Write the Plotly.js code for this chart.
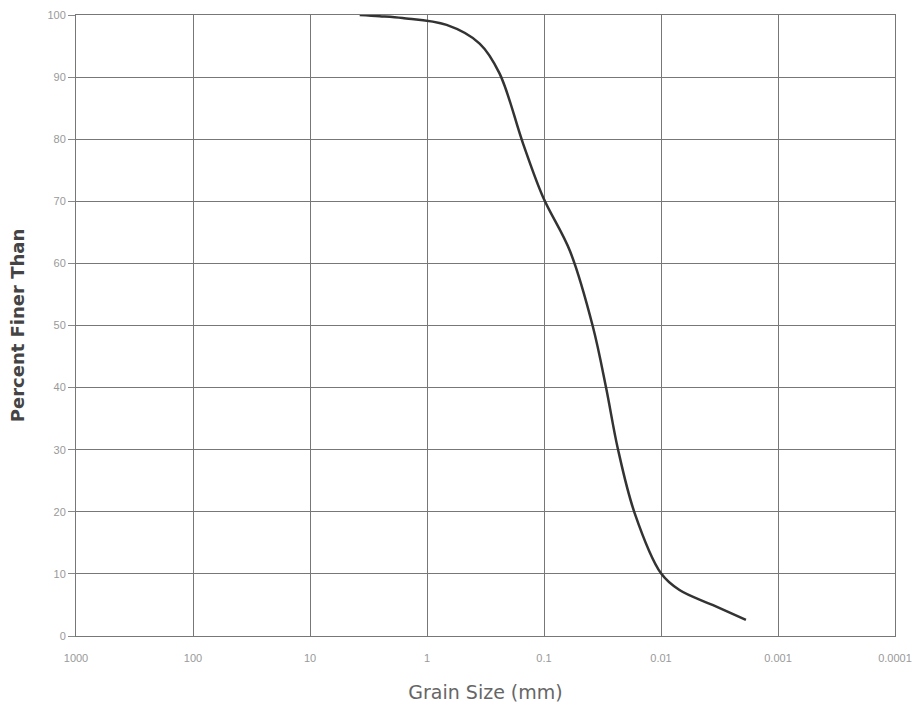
<!DOCTYPE html>
<html>
<head>
<meta charset="utf-8">
<script src="https://cdn.plot.ly/plotly-3.0.1.min.js"></script>
<style>html,body{margin:0;padding:0;background:#fff;}#chart{width:915px;height:706px;}</style>
</head>
<body>
<div id="chart"></div>
<script>
// Grain size distribution
const grainSize = [3.76, 2.54, 1.62, 0.68, 0.355, 0.24, 0.151, 0.102, 0.060, 0.0382, 0.0294, 0.0234, 0.0168, 0.0100, 0.00695, 0.00363, 0.00188];
const percentFiner = [100, 99.8, 99.5, 98.4, 95.4, 90.6, 79.3, 70.7, 62.0, 49.8, 39.9, 30.2, 19.8, 10.1, 7.4, 5.0, 2.6];
const xTickVals = [1000, 100, 10, 1, 0.1, 0.01, 0.001, 0.0001];
const xTickText = ["1000", "100", "10", "1", "0.1", "0.01", "0.001", "0.0001"];
const yTickVals = [0, 10, 20, 30, 40, 50, 60, 70, 80, 90, 100];

const trace = {
  x: grainSize,
  y: percentFiner,
  type: 'scatter',
  mode: 'lines',
  line: {color: '#333333', width: 2.5, shape: 'spline', smoothing: 1},
  hoverinfo: 'skip'
};

const layout = {
  width: 915, height: 706,
  margin: {l: 76, r: 20, t: 15, b: 70},
  paper_bgcolor: '#ffffff', plot_bgcolor: '#ffffff',
  showlegend: false,
  font: {family: 'Liberation Sans Narrow, Liberation Sans, Arial, sans-serif', color: '#999'},
  xaxis: {
    type: 'log', range: [3, -4],
    tickvals: xTickVals, ticktext: xTickText,
    tickfont: {size: 11, color: '#999', family: 'Liberation Sans Narrow, Liberation Sans, sans-serif'},
    ticklabelstandoff: 12,
    showgrid: true, gridcolor: '#777', gridwidth: 1,
    showline: true, linecolor: '#777', mirror: true,
    zeroline: false, ticks: '', ticklen: 0,
    title: {text: 'Grain Size (mm)', font: {size: 19, color: '#666', family: 'DejaVu Sans, sans-serif'}, standoff: 22}
  },
  yaxis: {
    range: [0, 100],
    tickvals: yTickVals,
    tickfont: {size: 11, color: '#999', family: 'Liberation Sans Narrow, Liberation Sans, sans-serif'},
    showgrid: true, gridcolor: '#777', gridwidth: 1,
    showline: true, linecolor: '#777', mirror: true,
    zeroline: false, ticks: 'outside', ticklen: 7, tickcolor: '#888',
    title: {text: '<b>Percent Finer Than</b>', font: {size: 18, color: '#444', family: 'DejaVu Sans, sans-serif'}, standoff: 18}
  }
};

Plotly.newPlot('chart', [trace], layout, {displayModeBar: false, staticPlot: true});
</script>
</body>
</html>
